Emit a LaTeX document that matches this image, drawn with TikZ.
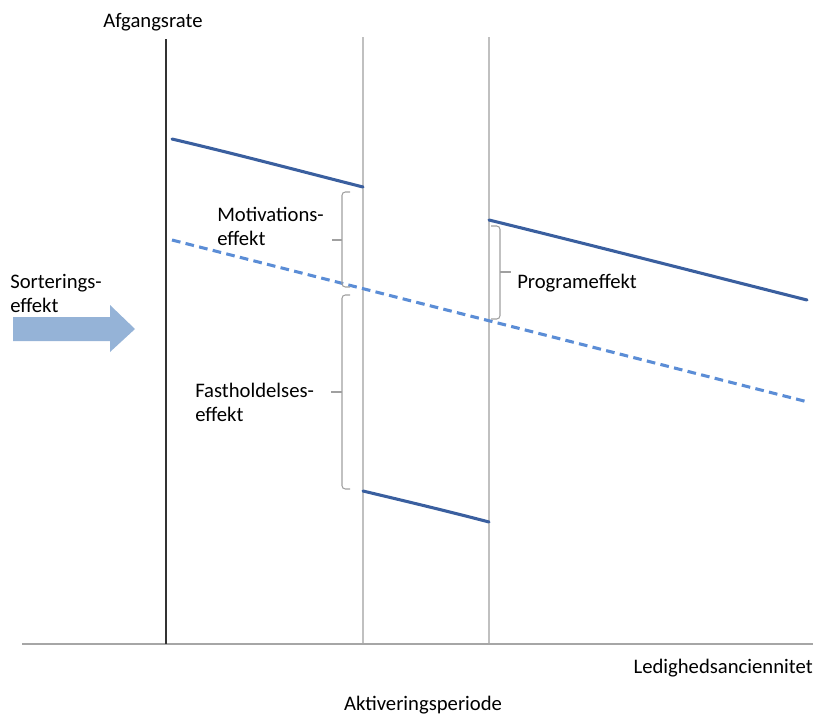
\documentclass[tikz,border=0pt]{standalone}
\usepackage{fontspec}
\setmainfont{Carlito}
\definecolor{solidblue}{HTML}{3A5F9F}
\definecolor{dashblue}{HTML}{5B8DD6}
\definecolor{arrowblue}{HTML}{95B3D7}
\definecolor{vgrey}{HTML}{C0C0C0}
\definecolor{axgrey}{HTML}{A6A6A6}
\definecolor{brgrey}{HTML}{A0A0A0}
\tikzset{
  lbl/.style={inner sep=0pt, font=\fontsize{15.5pt}{18pt}\selectfont, text=black},
  curve/.style={solidblue, line width=2.3pt, line cap=round},
  dcurve/.style={dashblue, line width=2.3pt, dash pattern=on 6.5pt off 4pt},
  bracebox/.style={brgrey, line width=0.8pt, rounded corners=2.5pt},
  vline/.style={vgrey, line width=1.8pt}
}
\begin{document}
\begin{tikzpicture}[x=0.75pt,y=-0.75pt]
\useasboundingbox (0,0) rectangle (815,715);
% coordinates
\coordinate (yTop) at (166,39);
\coordinate (yBot) at (166,644);
\coordinate (xL) at (22,644);
\coordinate (xR) at (813,644);
\coordinate (g1t) at (363,37);
\coordinate (g1b) at (363,644);
\coordinate (g2t) at (489,37);
\coordinate (g2b) at (489,644);
% axes
\draw[vline] (g1t) -- (g1b);
\draw[vline, line width=2.2pt] (g2t) -- (g2b);
\draw[axgrey, line width=1.5pt] (xL) -- (xR);
\draw[black!80, line width=1.2pt] (yTop) -- (yBot);
% curves
\coordinate (a1) at (172,139);
\coordinate (a2) at (363,187);
\coordinate (b1) at (489,220);
\coordinate (b2) at (807,300);
\coordinate (c1) at (363,491);
\coordinate (c2) at (489,522);
\coordinate (d1) at (172,240);
\coordinate (d2) at (808,402);
\draw[dcurve] (d1) -- (d2);
\draw[curve] (a1) .. controls (236,154) and (300,171) .. (a2);
\draw[curve] (b1) .. controls (595,246) and (700,273) .. (b2);
\draw[curve] (c1) .. controls (405,501) and (447,511) .. (c2);
% braces
\draw[bracebox] (350,192) -- (342,192) -- (342,287) -- (350,287);
\draw[brgrey, line width=0.8pt] (342,240) -- (332,240);
\draw[bracebox] (350,295) -- (342,295) -- (342,489) -- (350,489);
\draw[brgrey, line width=0.8pt] (342,392) -- (331,392);
\draw[bracebox] (491,226) -- (500,226) -- (500,319) -- (491,319);
\draw[brgrey, line width=0.8pt] (500,272) -- (511,272);
% arrow
\fill[arrowblue] (13,317) -- (110,317) -- (110,305) -- (135,329) -- (110,352) -- (110,341) -- (13,341) -- cycle;
% labels
\node[lbl] (afg) at (153,22) {Afgangsrate};
\node[lbl, anchor=east] (led) at (813,668) {Ledighedsanciennitet};
\node[lbl] (akt) at (423,705) {Aktiveringsperiode};
\node[lbl, anchor=west, align=left] (sort) at (10,293) {Sorterings-\\effekt};
\node[lbl, anchor=west, align=left] (mot) at (217,226) {Motivations-\\effekt};
\node[lbl, anchor=west, align=left] (fast) at (195,402) {Fastholdelses-\\effekt};
\node[lbl, anchor=west] (prog) at (517,283) {Programeffekt};
\end{tikzpicture}
\end{document}
